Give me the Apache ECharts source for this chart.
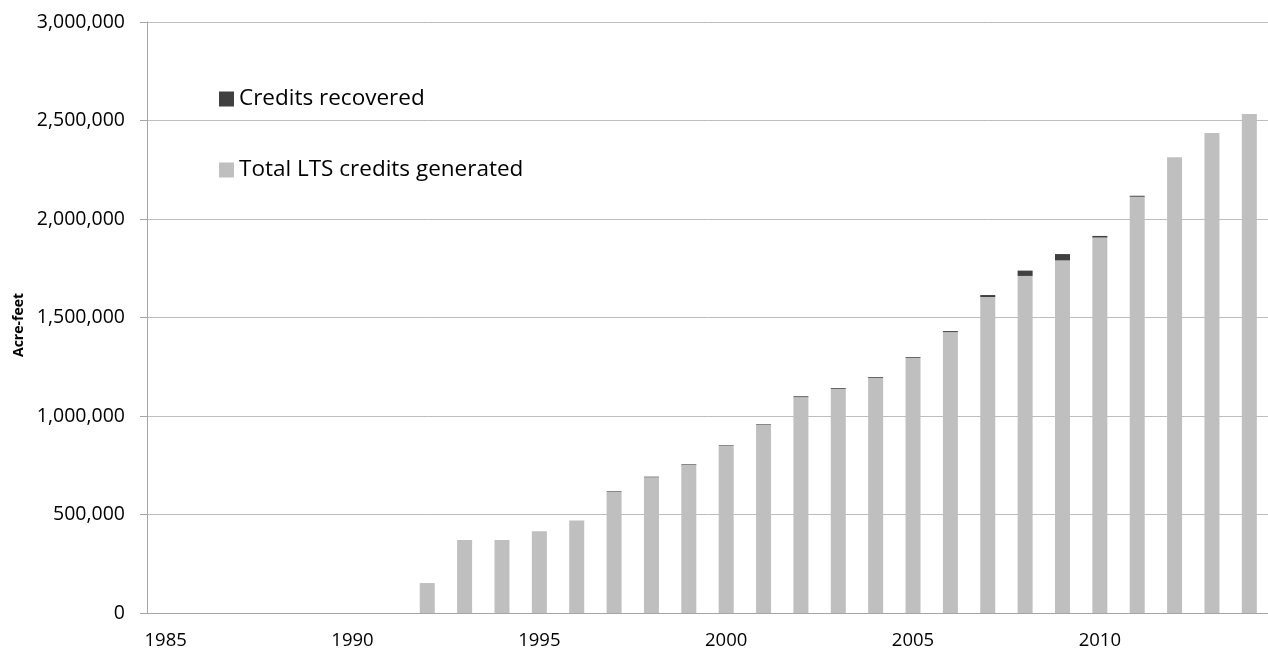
<!DOCTYPE html>
<html>
<head>
<meta charset="utf-8">
<script src="https://cdn.jsdelivr.net/npm/echarts@6/dist/echarts.min.js"></script>
<style>
  html, body { margin: 0; padding: 0; background: #fff; }
  #chart { width: 1268px; height: 652px; }
</style>
</head>
<body>
<div id="chart"></div>
<script>
const years = ['1985', '1986', '1987', '1988', '1989', '1990', '1991', '1992', '1993', '1994',
  '1995', '1996', '1997', '1998', '1999', '2000', '2001', '2002', '2003', '2004',
  '2005', '2006', '2007', '2008', '2009', '2010', '2011', '2012', '2013', '2014']

// acre-feet
const generated = [0, 0, 0, 0, 0, 0, 0, 152000, 370000, 370000,
  415000, 470000, 616000, 689000, 753000, 848000, 955000, 1096000, 1138000, 1194000,
  1295000, 1426000, 1604000, 1711000, 1790000, 1906000, 2113000, 2313000, 2436000, 2533000]

const recovered = [0, 0, 0, 0, 0, 0, 0, 0, 0, 0,
  0, 0, 3000, 3000, 3000, 3000, 3000, 4000, 4000, 4000,
  4000, 5000, 10000, 27000, 32000, 8000, 5000, 0, 0, 0]

const yTicks = { min: 0, max: 3000000, interval: 500000 }

const chart = echarts.init(document.getElementById('chart'))
const fontFamily = '"Open Sans", Lato, sans-serif'

chart.setOption({
  animation: false,
  textStyle: { fontFamily: fontFamily },
  legend: {
    orient: 'vertical',
    left: 214,
    top: 81,
    itemWidth: 15,
    itemHeight: 15,
    itemGap: 45,
    icon: 'rect',
    textStyle: { fontSize: 22.5, color: '#000', lineHeight: 26, fontFamily: fontFamily },
    data: ['Credits recovered', 'Total LTS credits generated']
  },
  grid: {
    left: 147,
    right: 0,
    top: 22,
    bottom: 39,
    containLabel: false
  },
  xAxis: {
    type: 'category',
    data: years,
    axisLine: { lineStyle: { color: '#a6a6a6' } },
    axisTick: { interval: 0, length: 7, lineStyle: { color: '#a6a6a6' } },
    axisLabel: { interval: 4, margin: 18, fontSize: 18.5, color: '#000' }
  },
  yAxis: {
    type: 'value',
    min: yTicks.min,
    max: yTicks.max,
    interval: yTicks.interval,
    name: 'Acre-feet',
    nameLocation: 'middle',
    nameGap: 121,
    nameTextStyle: { fontSize: 14, fontWeight: 'bold', color: '#000', padding: [0, 15, 0, 0] },
    axisLine: { show: true, lineStyle: { color: '#a6a6a6' } },
    axisTick: { show: true, length: 7, lineStyle: { color: '#a6a6a6' } },
    axisLabel: {
      margin: 22,
      fontSize: 19.5,
      color: '#000',
      formatter: v => v.toLocaleString('en-US')
    },
    splitLine: { lineStyle: { color: '#bdbdbd' } }
  },
  series: [
    {
      name: 'Total LTS credits generated',
      type: 'bar',
      stack: 'total',
      barWidth: 15,
      data: generated,
      itemStyle: { color: '#bfbfbf' }
    },
    {
      name: 'Credits recovered',
      type: 'bar',
      stack: 'total',
      barWidth: 15,
      data: recovered,
      itemStyle: { color: '#404040' }
    }
  ]
})
</script>
</body>
</html>
